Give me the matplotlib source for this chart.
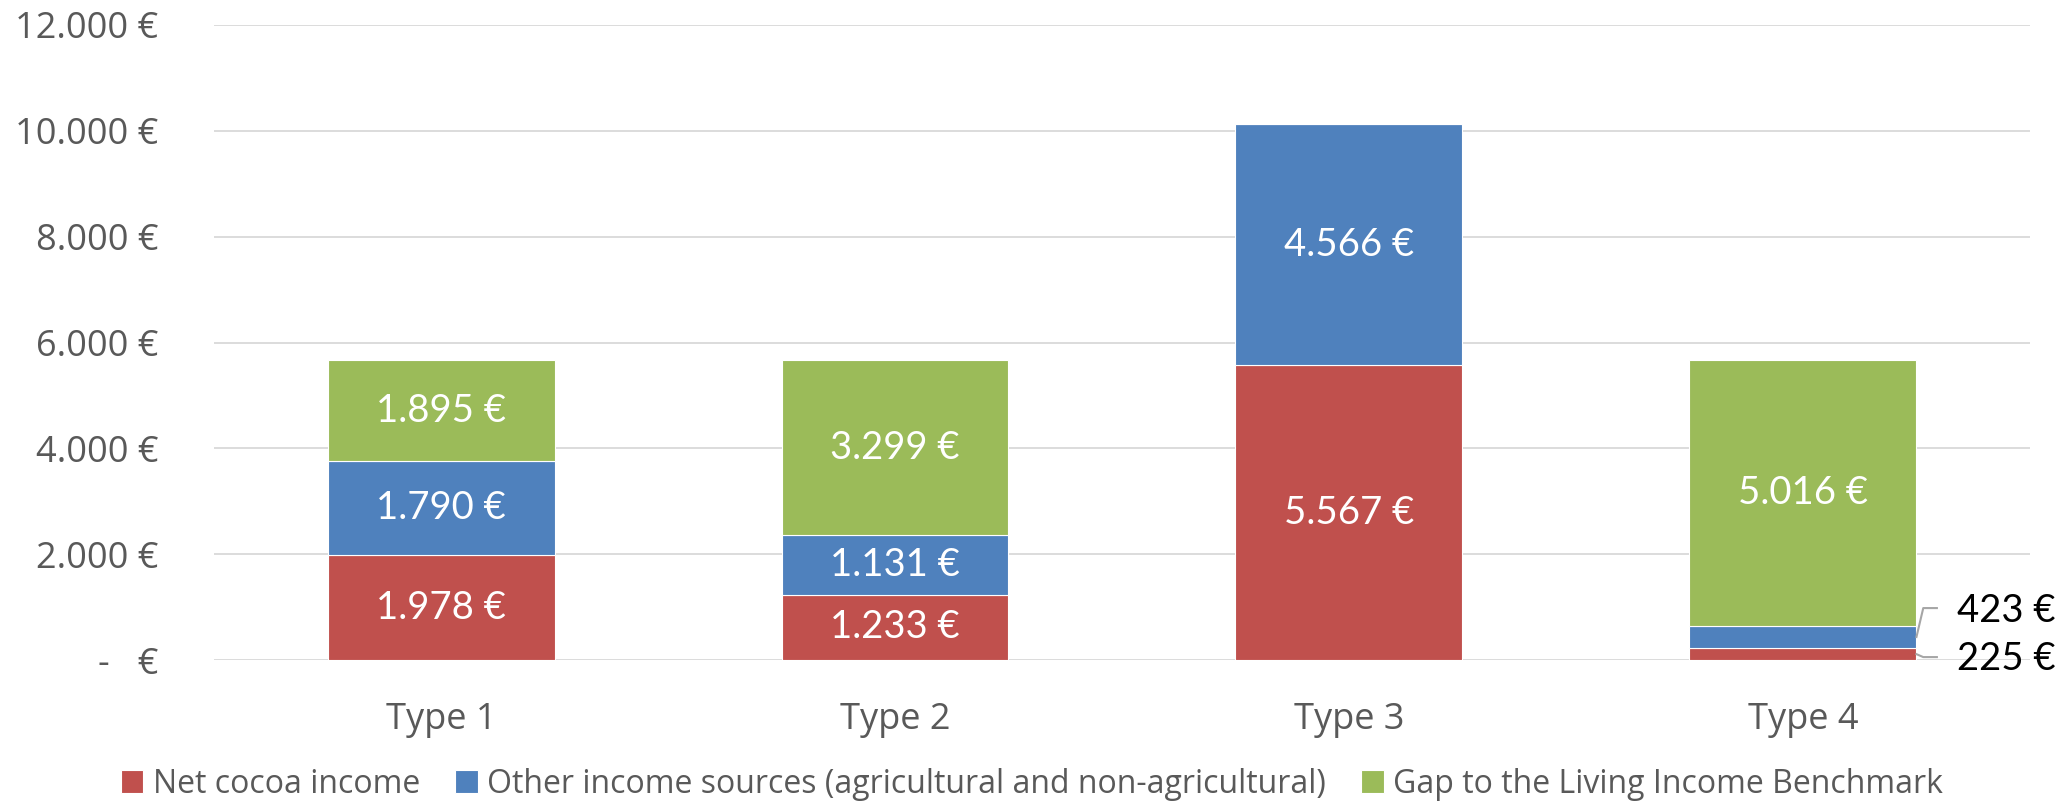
import matplotlib
matplotlib.use("Agg")
import matplotlib.pyplot as plt
import numpy as np

categories = ["Type 1", "Type 2", "Type 3", "Type 4"]
net_cocoa = [1978, 1233, 5567, 225]
other_income = [1790, 1131, 4566, 423]
gap_living = [1895, 3299, 0, 5016]
series_names = ["Net cocoa income",
                "Other income sources (agricultural and non-agricultural)",
                "Gap to the Living Income Benchmark"]
colors = ["#C0504D", "#4F81BD", "#9BBB59"]
yticks = [0, 2000, 4000, 6000, 8000, 10000, 12000]

def eur(v):
    if v == 0:
        return "-   €"
    return f"{v:,.0f} €".replace(",", ".")

fig = plt.figure(figsize=(20.64, 8.05), dpi=100)
ax = fig.add_axes([0.1037, 0.180, 0.8798, 0.789])

x = np.arange(len(categories))
width = 0.5
series = [net_cocoa, other_income, gap_living]
bottoms = np.zeros(len(categories))
bar_groups = []
for vals, col, name in zip(series, colors, series_names):
    bars = ax.bar(x, vals, width, bottom=bottoms, color=col, label=name,
                  edgecolor="white", linewidth=0.8, zorder=3)
    bar_groups.append((bars, vals, bottoms.copy()))
    bottoms += np.array(vals)

label_font = dict(family=["Lato", "DejaVu Sans"], fontsize=27.5)
for bars, vals, bots in bar_groups:
    for i, (b, v, bt) in enumerate(zip(bars, vals, bots)):
        if v < 1000:
            continue
        ax.text(b.get_x() + b.get_width() / 2, bt + v / 2, eur(v),
                ha="center", va="center", color="white", **label_font)

# outside labels for small segments of Type 4 with leader lines
i4 = 3
b_red = bar_groups[0][0][i4]
edge = b_red.get_x() + b_red.get_width()
red_mid = net_cocoa[i4] / 2
blue_mid = net_cocoa[i4] + other_income[i4] / 2
lc = "#A6A6A6"
y423 = 983
ax.plot([edge, edge + 0.015, edge + 0.045], [blue_mid, y423, y423], color=lc, lw=1.5, zorder=4, clip_on=False)
ax.text(edge + 0.09, y423 - 50, eur(other_income[i4]), ha="left", va="center", color="black", **label_font)
y225 = 57
ax.plot([edge, edge + 0.015, edge + 0.045], [red_mid, y225, y225], color=lc, lw=1.5, zorder=4, clip_on=False)
ax.text(edge + 0.09, y225 - 30, eur(net_cocoa[i4]), ha="left", va="center", color="black", **label_font)

ax.set_xlim(-0.5, 3.5)
ax.set_ylim(0, 12000)
ax.set_yticks(yticks)
ax.set_yticklabels([eur(v) for v in yticks], family=["Open Sans", "DejaVu Sans"],
                   fontsize=26, color="#595959")
ax.set_xticks(x)
ax.set_xticklabels(categories, family=["Open Sans", "DejaVu Sans"], fontsize=26, color="#595959")
ax.tick_params(axis="both", length=0)
ax.tick_params(axis="y", pad=40)
ax.tick_params(axis="x", pad=30)
ax.grid(axis="y", color="#D9D9D9", lw=1.3, zorder=0)
for s in ax.spines.values():
    s.set_visible(False)

leg = fig.legend(loc="center", bbox_to_anchor=(0.5, 0.026), ncol=3, frameon=False,
                 prop={"family": ["Open Sans", "DejaVu Sans"], "size": 23},
                 handlelength=0.7, handleheight=0.7, handletextpad=0.3, columnspacing=1.1)
for t in leg.get_texts():
    t.set_color("#595959")

fig.savefig("out.png", dpi=100)
